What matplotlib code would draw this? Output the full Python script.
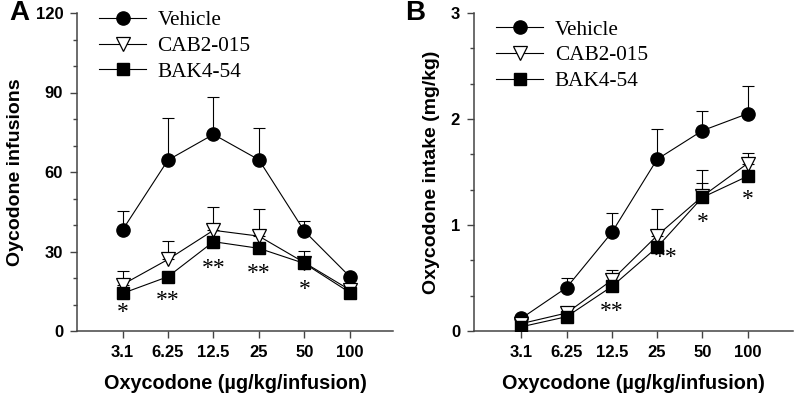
"""
Oxycodone self-administration dose-response: infusions (A) and intake (B)
"""
import numpy as np
import matplotlib.pyplot as plt
from matplotlib.ticker import MultipleLocator

doses = ["3.1", "6.25", "12.5", "25", "50", "100"]
groups = ["Vehicle", "CAB2-015", "BAK4-54"]

# panel A: number of infusions (mean, upper SEM)
inf_vehicle = [38.1, 64.5, 74.2, 64.6, 37.7, 20.5]
inf_vehicle_err = [7.2, 16.0, 14.2, 11.9, 3.9, 0.0]
inf_cab = [17.5, 27.0, 38.0, 35.8, 25.8, 15.5]
inf_cab_err = [5.3, 7.0, 8.9, 10.2, 4.5, 0.0]
inf_bak = [14.2, 20.5, 33.7, 31.2, 25.5, 14.5]
inf_bak_err = [0.0, 0.0, 0.0, 0.0, 0.0, 0.0]

# panel B: intake mg/kg
int_vehicle = [0.12, 0.41, 0.93, 1.62, 1.89, 2.05]
int_vehicle_err = [0.0, 0.09, 0.18, 0.29, 0.19, 0.26]
int_cab = [0.07, 0.17, 0.48, 0.90, 1.27, 1.58]
int_cab_err = [0.0, 0.0, 0.10, 0.25, 0.25, 0.10]
int_bak = [0.04, 0.135, 0.42, 0.79, 1.26, 1.46]
int_bak_err = [0.0, 0.0, 0.0, 0.0, 0.14, 0.0]

# significance marks (dose index, label, y position)
stars_a = [(0, "*", 7.0), (1, "**", 11.5), (2, "**", 23.5), (3, "**", 21.8), (4, "*", 15.5)]
stars_b = [(2, "**", 0.18), (3.2, "**", 0.69), (4, "*", 1.02), (5, "*", 1.24)]

x = np.arange(1, len(doses) + 1)
styles = [
    dict(marker="o", mfc="black", mec="black", ms=9.5),
    dict(marker="v", mfc="white", mec="black", ms=10, mew=0.9),
    dict(marker="s", mfc="black", mec="black", ms=8),
]

serif = ["Liberation Serif", "DejaVu Serif"]
sans = ["Liberation Sans", "DejaVu Sans"]
plt.rcParams["font.family"] = sans

fig = plt.figure(figsize=(7.95, 4), dpi=100)
ax_a = fig.add_axes([0.0969, 0.1725, 0.3975, 0.795])
ax_b = fig.add_axes([0.5962, 0.1725, 0.401, 0.795])


def draw(ax, series, stars, xlim, ylim, major, minor, ylabel, tag, leg_top):
    for (y, err), st, name in zip(series, styles, groups):
        ax.errorbar(x, y, yerr=[np.zeros(len(y)), err], fmt="none", ecolor="black",
                    elinewidth=0.8, capsize=4.5, capthick=0.8, zorder=2)
        ax.plot(x, y, color="black", lw=0.8, label=name, zorder=3, **st)
    for xi, s, yv in stars:
        ax.text(xi + 1, yv, s, ha="center", va="center", fontsize=17,
                family=serif, zorder=4)
    ax.set_xlim(*xlim)
    ax.set_ylim(*ylim)
    ax.set_xticks(x)
    ax.set_xticklabels(doses)
    ax.yaxis.set_major_locator(MultipleLocator(major))
    ax.yaxis.set_minor_locator(MultipleLocator(minor))
    for side in ["top", "right"]:
        ax.spines[side].set_visible(False)
    for side in ["left", "bottom"]:
        ax.spines[side].set_linewidth(1.1)
        ax.spines[side].set_color("#444444")
    ax.tick_params(axis="both", which="major", length=5, width=1.0, color="#444444",
                   labelsize=12, pad=5)
    ax.tick_params(axis="y", which="minor", length=3, width=1.0, color="#444444")
    for lab in ax.get_xticklabels() + ax.get_yticklabels():
        lab.set_fontweight("bold")
    ax.set_xlabel("Oxycodone (\u00b5g/kg/infusion)", fontsize=14.3, fontweight="bold",
                  labelpad=10)
    ax.set_ylabel(ylabel, fontsize=14, fontweight="bold", labelpad=8)
    ax.text(-0.215, 1.0, tag, transform=ax.transAxes, fontsize=20, fontweight="bold",
            ha="left", va="center")
    ax.legend(loc="upper left", bbox_to_anchor=(0.07, leg_top), frameon=False,
              prop={"family": serif, "size": 15.3}, handlelength=2.2,
              handletextpad=0.55, labelspacing=0.27, borderpad=0, borderaxespad=0)


draw(ax_a, [(inf_vehicle, inf_vehicle_err), (inf_cab, inf_cab_err), (inf_bak, inf_bak_err)],
     stars_a, (0, 6.95), (0, 120), 30, 10, "Oycodone infusions", "A", 1.008)
draw(ax_b, [(int_vehicle, int_vehicle_err), (int_cab, int_cab_err), (int_bak, int_bak_err)],
     stars_b, (-0.05, 7.0), (0, 3), 1, 1 / 3, "Oxycodone intake (mg/kg)", "B", 0.978)

fig.savefig("out.png", dpi=100)
